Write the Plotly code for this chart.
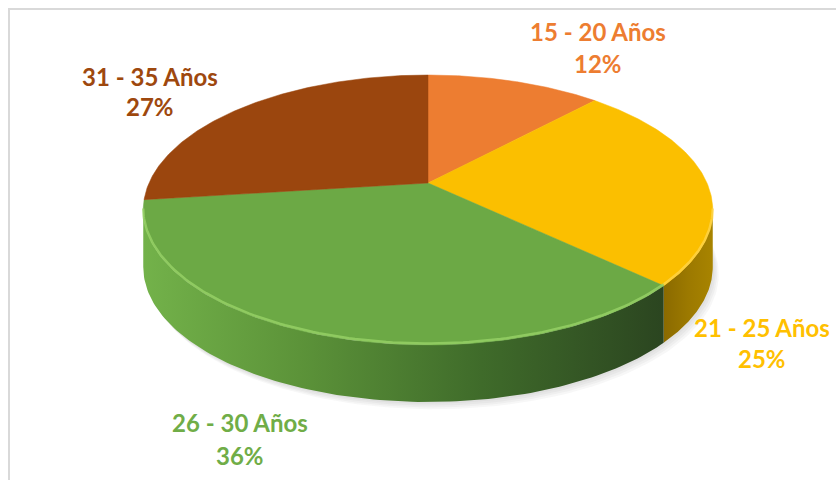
import numpy as np
import plotly.graph_objects as go

# ---- data ----
labels = ["15 - 20 Años", "21 - 25 Años", "26 - 30 Años", "31 - 35 Años"]
values = [12, 25, 36, 27]

# ---- styles ----
top_colors = ["#ED7D31", "#FBBF00", "#6CA945", "#9B460E"]
label_colors = ["#ED7D31", "#FFC000", "#70AD47", "#9E480E"]
side_scales = [
    [[0, "#B45A1E"], [1, "#C8672A"]],
    [[0, "#8A6A00"], [0.5, "#9C7900"], [1, "#A88400"]],
    [[0, "#73B24A"], [0.3, "#5C9339"], [0.65, "#3F6B2A"], [1, "#2B4520"]],
    [[0, "#7A3608"], [1, "#8A3E0B"]],
]
rim_colors = ["#F6A468", "#FFD64D", "#9BD66A", "#B8642C"]
# (x, y of name line, y of percent line)
label_pos = [(598, 31, 63), (762, 327, 358), (240, 422, 455), (150, 76, 106)]

# ---- geometry (pixel space) ----
CX, CY = 428, 183
SX, SY = 279, 129.6
A = 0.2
DEPTH = 57


def project(theta, dy=0.0, dx=0.0):
    u, v = np.sin(theta), np.cos(theta)
    d = 1 + A * v
    return CX + SX * u / d + dx, CY - SY * v / d + dy


fracs = np.array(values, dtype=float) / np.sum(values)
bounds = np.concatenate([[0], np.cumsum(fracs)]) * 2 * np.pi
vis_lo = np.arccos(-A)
vis_hi = 2 * np.pi - vis_lo

fig = go.Figure()

# soft shadow under the pie
full = np.linspace(0, 2 * np.pi, 240)
for k in [3, 6, 9, 12]:
    xs, ys = project(full, DEPTH + k * 0.6, k * 0.5)
    fig.add_trace(go.Scatter(x=xs, y=ys, fill="toself", mode="lines",
                             line=dict(width=0), fillcolor="rgba(120,120,120,0.06)",
                             hoverinfo="skip", showlegend=False))

# side walls (visible front part only)
for i in range(len(values)):
    a0, a1 = max(bounds[i], vis_lo), min(bounds[i + 1], vis_hi)
    if a1 <= a0:
        continue
    th = np.linspace(a0, a1, 120)
    xt, yt = project(th)
    xb, yb = project(th[::-1], DEPTH)
    xs = np.concatenate([xt, xb, xt[:1]])
    ys = np.concatenate([yt, yb, yt[:1]])
    fig.add_trace(go.Scatter(
        x=xs, y=ys, fill="toself", mode="lines", line=dict(width=0),
        fillcolor=top_colors[i],
        fillgradient=dict(type="horizontal", colorscale=side_scales[i],
                          start=float(xs.min()), stop=float(xs.max())),
        hoverinfo="skip", showlegend=False))

# top faces
for i in range(len(values)):
    th = np.linspace(bounds[i], bounds[i + 1], 160)
    xa, ya = project(th)
    xs = np.concatenate([[CX], xa, [CX]])
    ys = np.concatenate([[CY], ya, [CY]])
    fig.add_trace(go.Scatter(
        x=xs, y=ys, fill="toself", mode="lines",
        line=dict(width=0.5, color=top_colors[i]), fillcolor=top_colors[i],
        name=labels[i], hoverinfo="name", showlegend=False))

# rim highlight on front edge
for i in range(len(values)):
    a0, a1 = max(bounds[i], vis_lo), min(bounds[i + 1], vis_hi)
    if a1 <= a0:
        continue
    th = np.linspace(a0, a1, 120)
    xt, yt = project(th, -1.5)
    fig.add_trace(go.Scatter(x=xt, y=yt, mode="lines",
                             line=dict(width=2.5, color=rim_colors[i]),
                             opacity=0.75, hoverinfo="skip", showlegend=False))

# labels
for i in range(len(values)):
    x, y1, y2 = label_pos[i]
    for txt, yy in ((labels[i], y1), (f"{values[i]}%", y2)):
        fig.add_annotation(
            x=x, y=yy, xref="x", yref="y", text=f"<b>{txt}</b>",
            showarrow=False, yanchor="middle", xanchor="center",
            font=dict(family="Lato", size=24, color=label_colors[i]))

fig.update_layout(
    width=836, height=480, autosize=False,
    margin=dict(l=0, r=0, t=0, b=0),
    paper_bgcolor="white", plot_bgcolor="white",
    xaxis=dict(range=[0, 836], visible=False, fixedrange=True),
    yaxis=dict(range=[480, 0], visible=False, fixedrange=True),
    shapes=[dict(type="rect", xref="paper", yref="paper",
                 x0=9 / 836, y0=-0.1, x1=1.1, y1=1 - 9 / 480,
                 line=dict(color="#D9D9D9", width=2), fillcolor="rgba(0,0,0,0)",
                 layer="below")],
)

fig.write_html("out.html", config={"displayModeBar": False},
               post_script="document.body.style.margin='0';document.body.style.overflow='hidden';")
